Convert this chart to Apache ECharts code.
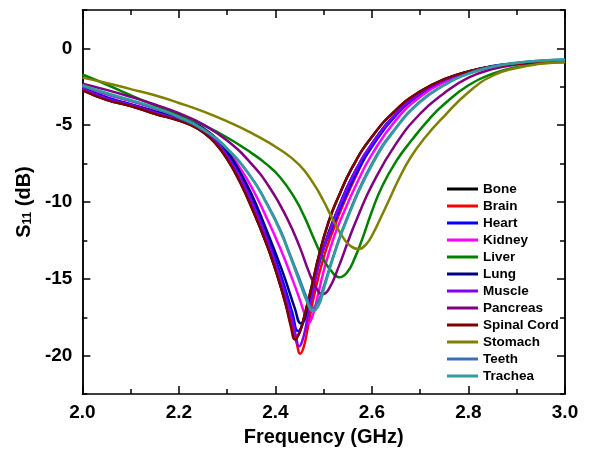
<!DOCTYPE html>
<html>
<head>
<meta charset="utf-8">
<script src="https://cdn.jsdelivr.net/npm/echarts@6/dist/echarts.min.js"></script>
<style>html,body{margin:0;padding:0;background:#fff;}#chart{width:590px;height:452px;}</style>
</head>
<body>
<div id="chart"></div>
<script>
// ---- data: [frequency (GHz), S11 (dB)] ----
const bone = [[2.00,-2.72],[2.05,-3.35],[2.10,-3.75],[2.15,-4.25],[2.20,-4.7],[2.225,-5.0],[2.25,-5.45],[2.275,-6.15],[2.30,-7.2],[2.325,-8.6],[2.35,-10.3],[2.38,-12.6],[2.40,-14.4],[2.42,-16.5],[2.433,-18.0],[2.442,-18.85],[2.451,-18.4],[2.461,-17.3],[2.476,-15.4],[2.49,-13.5],[2.51,-11.3],[2.53,-9.7],[2.56,-7.7],[2.60,-5.75],[2.65,-4.0],[2.70,-2.8],[2.75,-2.0],[2.80,-1.5],[2.85,-1.18],[2.90,-1.0],[2.95,-0.9],[3.00,-0.86]];
const brain = [[2.00,-2.65],[2.05,-3.3],[2.10,-3.72],[2.15,-4.2],[2.20,-4.65],[2.225,-4.95],[2.25,-5.38],[2.275,-6.05],[2.30,-7.05],[2.325,-8.4],[2.35,-10.0],[2.38,-12.3],[2.40,-14.1],[2.42,-16.2],[2.435,-18.0],[2.445,-19.3],[2.451,-19.87],[2.458,-19.5],[2.467,-18.2],[2.48,-16.1],[2.50,-13.6],[2.52,-11.8],[2.54,-10.2],[2.57,-8.1],[2.60,-6.3],[2.65,-4.3],[2.70,-3.0],[2.75,-2.1],[2.80,-1.55],[2.85,-1.2],[2.90,-1.02],[2.95,-0.93],[3.00,-0.9]];
const heart = [[2.00,-2.52],[2.05,-3.18],[2.10,-3.63],[2.15,-4.1],[2.20,-4.55],[2.225,-4.85],[2.25,-5.25],[2.275,-5.9],[2.30,-6.85],[2.325,-8.15],[2.35,-9.7],[2.38,-12.0],[2.40,-13.7],[2.42,-15.6],[2.435,-17.2],[2.447,-18.4],[2.457,-17.9],[2.468,-16.6],[2.48,-15.0],[2.50,-13.0],[2.52,-11.5],[2.54,-10.0],[2.57,-8.0],[2.60,-6.4],[2.65,-4.35],[2.70,-2.98],[2.75,-2.1],[2.80,-1.53],[2.85,-1.18],[2.90,-0.99],[2.95,-0.88],[3.00,-0.84]];
const kidney = [[2.00,-2.45],[2.05,-3.0],[2.10,-3.42],[2.15,-3.92],[2.20,-4.45],[2.225,-4.78],[2.25,-5.2],[2.275,-5.8],[2.30,-6.6],[2.325,-7.7],[2.35,-9.0],[2.38,-10.9],[2.41,-13.0],[2.43,-14.6],[2.45,-16.3],[2.461,-17.35],[2.468,-17.9],[2.476,-17.5],[2.487,-16.2],[2.50,-14.5],[2.52,-12.4],[2.54,-10.8],[2.57,-8.7],[2.60,-6.9],[2.65,-4.65],[2.70,-3.15],[2.75,-2.2],[2.80,-1.6],[2.85,-1.22],[2.90,-1.0],[2.95,-0.88],[3.00,-0.82]];
const liver = [[2.00,-1.7],[2.05,-2.35],[2.10,-3.05],[2.15,-3.7],[2.20,-4.3],[2.25,-4.98],[2.30,-5.8],[2.35,-6.8],[2.38,-7.5],[2.41,-8.4],[2.44,-9.75],[2.46,-10.95],[2.48,-12.4],[2.50,-13.75],[2.515,-14.45],[2.532,-14.9],[2.548,-14.6],[2.565,-13.6],[2.58,-12.4],[2.60,-10.6],[2.62,-9.05],[2.65,-7.35],[2.683,-5.95],[2.72,-4.55],[2.75,-3.62],[2.80,-2.4],[2.85,-1.65],[2.90,-1.22],[2.95,-0.96],[3.00,-0.8]];
const lung = [[2.00,-2.58],[2.05,-3.22],[2.10,-3.66],[2.15,-4.1],[2.20,-4.52],[2.225,-4.8],[2.25,-5.18],[2.275,-5.8],[2.30,-6.7],[2.325,-7.95],[2.35,-9.45],[2.38,-11.7],[2.40,-13.3],[2.42,-15.0],[2.44,-16.9],[2.453,-17.9],[2.463,-17.4],[2.475,-15.9],[2.49,-14.0],[2.51,-12.0],[2.53,-10.4],[2.56,-8.3],[2.60,-6.2],[2.65,-4.25],[2.70,-2.92],[2.75,-2.05],[2.80,-1.5],[2.85,-1.15],[2.90,-0.97],[2.95,-0.86],[3.00,-0.8]];
const muscle = [[2.00,-2.6],[2.05,-3.25],[2.10,-3.68],[2.15,-4.16],[2.20,-4.62],[2.225,-4.92],[2.25,-5.33],[2.275,-6.0],[2.30,-7.0],[2.325,-8.3],[2.35,-9.9],[2.38,-12.2],[2.40,-14.0],[2.42,-16.0],[2.435,-17.7],[2.443,-18.8],[2.449,-19.4],[2.456,-19.0],[2.465,-17.8],[2.478,-15.8],[2.495,-13.5],[2.515,-11.7],[2.535,-10.1],[2.565,-8.0],[2.60,-6.2],[2.65,-4.25],[2.70,-2.92],[2.75,-2.07],[2.80,-1.52],[2.85,-1.18],[2.90,-1.0],[2.95,-0.9],[3.00,-0.86]];
const pancreas = [[2.00,-2.3],[2.05,-2.7],[2.10,-3.15],[2.15,-3.65],[2.20,-4.22],[2.25,-4.95],[2.30,-6.0],[2.35,-7.5],[2.39,-9.15],[2.424,-11.05],[2.45,-12.9],[2.47,-14.6],[2.485,-15.6],[2.497,-16.0],[2.51,-15.7],[2.53,-14.3],[2.55,-12.6],[2.57,-11.0],[2.60,-8.9],[2.65,-6.2],[2.70,-4.25],[2.75,-2.9],[2.80,-1.9],[2.85,-1.35],[2.90,-1.05],[2.95,-0.88],[3.00,-0.78]];
const spinalCord = [[2.00,-2.72],[2.05,-3.35],[2.10,-3.75],[2.15,-4.25],[2.20,-4.7],[2.225,-5.0],[2.25,-5.45],[2.275,-6.15],[2.30,-7.2],[2.325,-8.6],[2.35,-10.3],[2.38,-12.6],[2.40,-14.4],[2.42,-16.5],[2.432,-18.1],[2.441,-18.96],[2.45,-18.5],[2.46,-17.4],[2.475,-15.5],[2.49,-13.5],[2.51,-11.3],[2.53,-9.7],[2.56,-7.7],[2.60,-5.75],[2.65,-4.0],[2.70,-2.8],[2.75,-2.0],[2.80,-1.5],[2.85,-1.18],[2.90,-1.0],[2.95,-0.9],[3.00,-0.86]];
const stomach = [[2.00,-1.9],[2.05,-2.25],[2.10,-2.65],[2.15,-3.05],[2.20,-3.55],[2.25,-4.1],[2.30,-4.75],[2.35,-5.5],[2.41,-6.6],[2.45,-7.6],[2.48,-8.85],[2.50,-9.95],[2.52,-11.2],[2.54,-12.3],[2.555,-12.85],[2.572,-13.05],[2.588,-12.75],[2.603,-12.0],[2.617,-11.1],[2.635,-9.9],[2.655,-8.55],[2.68,-7.1],[2.71,-5.8],[2.75,-4.4],[2.80,-2.85],[2.85,-1.78],[2.90,-1.27],[2.95,-1.0],[3.00,-0.88]];
const teeth = [[2.00,-2.45],[2.05,-2.95],[2.10,-3.4],[2.15,-3.9],[2.20,-4.5],[2.25,-5.3],[2.30,-6.55],[2.35,-8.4],[2.38,-9.95],[2.41,-11.8],[2.43,-13.4],[2.45,-15.0],[2.465,-16.25],[2.476,-16.9],[2.488,-16.5],[2.50,-15.5],[2.52,-13.5],[2.55,-10.9],[2.60,-7.5],[2.65,-5.15],[2.70,-3.45],[2.75,-2.38],[2.80,-1.63],[2.85,-1.18],[2.90,-0.93],[2.95,-0.79],[3.00,-0.72]];
const trachea = [[2.00,-2.4],[2.05,-2.9],[2.10,-3.35],[2.15,-3.85],[2.20,-4.45],[2.25,-5.25],[2.30,-6.5],[2.35,-8.4],[2.38,-10.0],[2.41,-11.9],[2.43,-13.5],[2.45,-15.2],[2.465,-16.45],[2.478,-17.1],[2.49,-16.7],[2.50,-15.7],[2.52,-13.6],[2.55,-11.0],[2.60,-7.6],[2.65,-5.2],[2.70,-3.5],[2.75,-2.4],[2.80,-1.65],[2.85,-1.2],[2.90,-0.95],[2.95,-0.8],[3.00,-0.72]];

const seriesNames = ['Bone','Brain','Heart','Kidney','Liver','Lung','Muscle','Pancreas','Spinal Cord','Stomach','Teeth','Trachea'];
const seriesData = [bone, brain, heart, kidney, liver, lung, muscle, pancreas, spinalCord, stomach, teeth, trachea];
const seriesColors = ['#000000','#ff0000','#0000ff','#ff00ff','#008000','#000080','#8000ff','#800080','#800000','#808000','#3a70b5','#339c9c'];

const yMajorTicks = [-20, -15, -10, -5, 0];

const FONT = '"Liberation Sans", Arial, sans-serif';
const axisLineStyle = { color: '#000', width: 1.5 };

const chart = echarts.init(document.getElementById('chart'), null, { renderer: 'canvas' });

const baseY = {
  type: 'value', min: -22.5, max: 2.5, interval: 2.5,
  splitLine: { show: false },
  axisLine: { show: true, lineStyle: axisLineStyle },
};

chart.setOption({
  animation: false,
  backgroundColor: '#fff',
  grid: { left: 82, right: 25, top: 10, bottom: 57, containLabel: false },
  legend: {
    orient: 'vertical', left: 447, top: 181, padding: 0,
    icon: 'rect', itemWidth: 31, itemHeight: 3, itemGap: 1,
    data: seriesNames,
    textStyle: { fontFamily: FONT, fontWeight: 'bold', fontSize: 13.5, lineHeight: 16, color: '#000' }
  },
  xAxis: [
    {
      type: 'value', min: 2, max: 3, interval: 0.2, position: 'bottom',
      splitLine: { show: false },
      axisLine: { show: true, onZero: false, lineStyle: axisLineStyle },
      axisTick: { show: true, inside: true, length: 8, lineStyle: { color: '#000', width: 1.5 } },
      minorTick: { show: true, splitNumber: 2, length: 5, lineStyle: { color: '#000', width: 1.5 } },
      axisLabel: { margin: 9, formatter: v => v.toFixed(1), fontFamily: FONT, fontWeight: 'bold', fontSize: 19, color: '#000' },
      name: 'Frequency (GHz)', nameLocation: 'middle', nameGap: 31,
      nameTextStyle: { fontFamily: FONT, fontWeight: 'bold', fontSize: 20, color: '#000' }
    },
    {
      type: 'value', min: 2, max: 3, interval: 0.2, position: 'top',
      splitLine: { show: false },
      axisLine: { show: true, onZero: false, lineStyle: axisLineStyle },
      axisTick: { show: true, inside: true, length: 8, lineStyle: { color: '#000', width: 1.5 } },
      minorTick: { show: true, splitNumber: 2, length: 5, lineStyle: { color: '#000', width: 1.5 } },
      axisLabel: { show: false }
    }
  ],
  yAxis: [
    Object.assign({}, baseY, {
      position: 'left',
      axisTick: { show: true, inside: true, length: 5, lineStyle: { color: '#000', width: 1.5 } },
      axisLabel: { customValues: yMajorTicks, margin: 10, formatter: v => String(v), fontFamily: FONT, fontWeight: 'bold', fontSize: 19, color: '#000' },
      name: '{main|S}{sub|11}{main| (dB)}', nameLocation: 'middle', nameGap: 44,
      nameTextStyle: {
        fontFamily: FONT, fontWeight: 'bold', fontSize: 20, color: '#000',
        rich: {
          main: { fontFamily: FONT, fontWeight: 'bold', fontSize: 20, lineHeight: 20, verticalAlign: 'top', color: '#000' },
          sub: { fontFamily: FONT, fontWeight: 'bold', fontSize: 12, lineHeight: 12, padding: [14, 0, 0, 0], verticalAlign: 'bottom', color: '#000' }
        }
      }
    }),
    Object.assign({}, baseY, {
      position: 'left',
      axisTick: { show: true, inside: true, length: 8, customValues: yMajorTicks, lineStyle: { color: '#000', width: 1.5 } },
      axisLabel: { show: false }
    }),
    Object.assign({}, baseY, {
      position: 'right',
      axisTick: { show: true, inside: true, length: 5, lineStyle: { color: '#000', width: 1.5 } },
      axisLabel: { show: false }
    }),
    Object.assign({}, baseY, {
      position: 'right',
      axisTick: { show: true, inside: true, length: 8, customValues: yMajorTicks, lineStyle: { color: '#000', width: 1.5 } },
      axisLabel: { show: false }
    })
  ],
  series: seriesNames.map((name, i) => ({
    name: name, type: 'line', xAxisIndex: 0, yAxisIndex: 0,
    data: seriesData[i], symbol: 'none', smooth: 0.5,
    lineStyle: { color: seriesColors[i], width: 2.5 },
    itemStyle: { color: seriesColors[i] },
    clip: true
  }))
});
</script>
</body>
</html>
